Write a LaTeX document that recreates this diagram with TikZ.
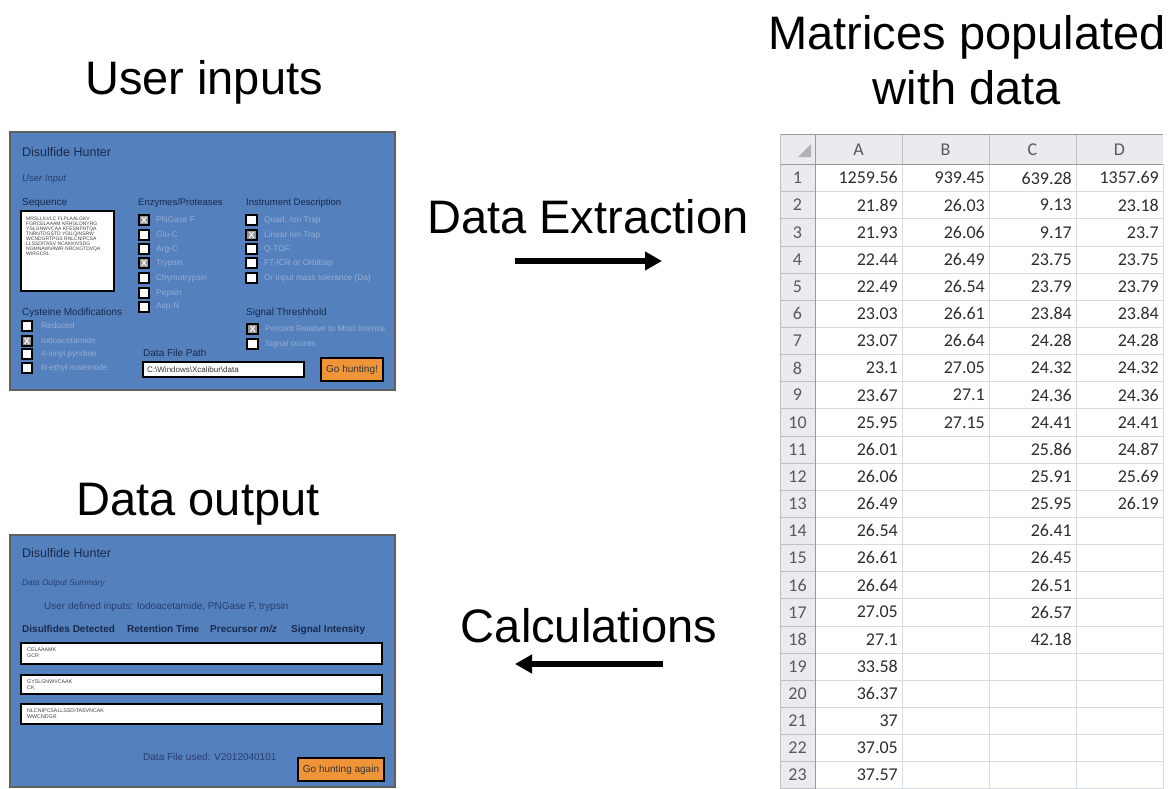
\documentclass[tikz,border=0pt]{standalone}
\usepackage{fontspec}
\setmainfont{Liberation Sans}
\newfontfamily\sheetfont{Carlito}
\usepackage{tikz}
\usetikzlibrary{arrows.meta,positioning,calc}
\definecolor{panelBlue}{RGB}{84,129,190}
\definecolor{panelEdge}{RGB}{95,95,95}
\definecolor{hdNavy}{RGB}{25,40,75}
\definecolor{itNavy}{RGB}{40,62,110}
\definecolor{lblBlue}{RGB}{150,172,212}
\definecolor{btnOrange}{RGB}{240,148,56}
\definecolor{sheetInk}{RGB}{45,45,45}
\definecolor{sheetHead}{RGB}{233,235,239}
\definecolor{sheetGrid}{RGB}{216,219,223}

\begin{document}
\begin{tikzpicture}[x=1pt, y=-1pt,
  title/.style={anchor=base, inner sep=0pt, font=\fontsize{47}{50}\selectfont},
  hunter/.style={anchor=base west, inner sep=0pt, text=hdNavy, font=\fontsize{12.5}{13}\selectfont},
  subt/.style={anchor=base west, inner sep=0pt, text=itNavy, font=\itshape\fontsize{9.5}{10}\selectfont},
  head/.style={anchor=base west, inner sep=0pt, text=hdNavy, font=\fontsize{10}{11}\selectfont},
  lbl/.style={anchor=west, inner sep=0pt, text=lblBlue, font=\fontsize{8.3}{9}\selectfont},
  chk/.style={draw=black, line width=1.6pt, fill=white, minimum size=10.5pt, inner sep=0pt, text=white, font=\bfseries\fontsize{9}{9}\selectfont},
  chkx/.style={chk, fill=black!40},
  tiny/.style={anchor=north west, inner sep=0pt, align=left, text=black!75, font=\fontsize{5.3}{5.8}\selectfont},
  btn/.style={draw=black, line width=1.8pt, fill=btnOrange},
  colhd/.style={inner sep=0pt, text=black!65, font=\sheetfont\fontsize{18}{18}\selectfont},
  num/.style={anchor=east, inner sep=0pt, text=sheetInk, font=\sheetfont\fontsize{18}{18}\selectfont}
]
  \useasboundingbox (0,0) rectangle (1172,789);

  % Titles
  \node[title] (tIn) at (204,95) {User inputs};
  \node[title] (tOut) at (198,515) {Data output};
  \node[title] (tMat1) at (967,50) {Matrices populated};
  \node[title] (tMat2) at (967,105) {with data};
  \node[title] (tExt) at (588,233) {Data Extraction};
  \node[title] (tCalc) at (589,642) {Calculations};

  % Arrows
  \coordinate (extFrom) at (515,261);
  \coordinate (extTo) at (662,261);
  \coordinate (calcFrom) at (663,664);
  \coordinate (calcTo) at (515,664);
  \draw[line width=5.5pt, -{Triangle[length=17pt,width=18pt]}] (extFrom) -- (extTo);
  \draw[line width=5.5pt, -{Triangle[length=17pt,width=18pt]}] (calcFrom) -- (calcTo);

  % Input panel
  \draw[panelEdge, line width=1.5pt, fill=panelBlue] (10,132) rectangle (395,390);
  \node[hunter] (inHunter) at (22,157) {Disulfide Hunter};
  \node[subt] (inSub) at (22,181.5) {User Input};
  \node[head] (seqHd) at (22,205.5) {Sequence};
  \node[head, font=\fontsize{9.5}{10}\selectfont] (enzHd) at (138,205.5) {Enzymes/Proteases};
  \node[head, font=\fontsize{9.5}{10}\selectfont] (insHd) at (246,205.5) {Instrument Description};
  \draw[black, line width=2pt, fill=white] (21,211) rectangle (114,291);
  \node[tiny, font=\fontsize{5}{5}\selectfont] (seqTxt) at (26,217) {MRSLLILVLC FLPLAALGKV\\FGRCELAAAM KRHGLDNYRG\\YSLGNWVCAA KFESNFNTQA\\TNRNTDGSTD YGILQINSRW\\WCNDGRTPGS RNLCNIPCSA\\LLSSDITASV NCAKKIVSDG\\NGMNAWVAWR NRCKGTDVQA\\WIRGCRL};
  % enzymes
  \foreach \lab/\yy/\st/\m [count=\i] in {PNGase F/220/chkx/X, Glu-C/235/chk/{}, Arg-C/249/chk/{}, Trypsin/263/chkx/X, Chymotrypsin/278/chk/{}, Pepsin/293/chk/{}, Asp-N/307/chk/{}} {
    \node[\st] (enz\i) at (144,\yy) {\m};
    \node[lbl] (enzL\i) at (156,\yy) {\lab};
  }
  % instruments
  \foreach \lab/\yy/\st/\m [count=\i] in {Quad. Ion Trap/220/chk/{}, Linear Ion Trap/235/chkx/X, Q-TOF/249/chk/{}, FT-ICR or Orbitrap/263/chk/{}, Or input mass tolerance (Da)/278/chk/{}} {
    \node[\st] (ins\i) at (251.5,\yy) {\m};
    \node[lbl] (insL\i) at (264,\yy) {\lab};
  }
  \node[head] (sigHd) at (246,315) {Signal Threshhold};
  \foreach \lab/\yy/\st/\m [count=\i] in {Percent Relative to Most Intense/329/chkx/X, Signal counts/344/chk/{}} {
    \node[\st] (sig\i) at (252.5,\yy) {\m};
    \node[lbl] (sigL\i) at (265,\yy) {\lab};
  }
  \node[head] (cysHd) at (22,315) {Cysteine Modifications};
  \foreach \lab/\yy/\st/\m [count=\i] in {Reduced/326/chk/{}, Iodoacetamide/341/chkx/X, 4-vinyl pyridine/354/chk/{}, N-ethyl maleimide/368/chk/{}} {
    \node[\st] (cys\i) at (27,\yy) {\m};
    \node[lbl] (cysL\i) at (41,\yy) {\lab};
  }
  \node[head] (pathHd) at (143,356.5) {Data File Path};
  \draw[black, line width=1.8pt, fill=white] (143,362) rectangle (304,377);
  \node[anchor=west, inner sep=0pt, font=\fontsize{8}{9}\selectfont, text=black!80] (pathTxt) at (147,369.5) {C:\textbackslash Windows\textbackslash Xcalibur\textbackslash data};
  \draw[btn] (321,358) rectangle (383,381);
  \node[inner sep=0pt, font=\fontsize{10}{11}\selectfont, text=black!80] (goBtn) at (352,369.5) {Go hunting!};

  % Output panel
  \draw[panelEdge, line width=1.5pt, fill=panelBlue] (10,535) rectangle (395,787);
  \node[hunter] (outHunter) at (22,557) {Disulfide Hunter};
  \node[subt, font=\itshape\fontsize{8.3}{9}\selectfont] (outSub) at (22,585) {Data Output Summary};
  \node[head, text=itNavy] (outUser) at (44,609.5) {User defined inputs: Iodoacetamide, PNGase F, trypsin};
  \node[head, font=\bfseries\fontsize{10}{11}\selectfont] (colDis) at (22,632.5) {Disulfides Detected};
  \node[head, font=\bfseries\fontsize{10}{11}\selectfont] (colRet) at (127,632.5) {Retention Time};
  \node[head, font=\bfseries\fontsize{10}{11}\selectfont] (colPre) at (210,632.5) {Precursor \textit{m/z}};
  \node[head, font=\bfseries\fontsize{10}{11}\selectfont] (colSig) at (291,632.5) {Signal Intensity};
  \foreach \top/\bot/\pep [count=\i] in {643/664/{CELAAAMK\\GCR}, 675/694/{GYSLGNWVCAAK\\CK}, 704/724/{NLCNIPCSALLSSDITASVNCAK\\WWCNDGR}} {
    \draw[black, line width=2pt, fill=white] (21,\top) rectangle (382,\bot);
    \node[tiny] (res\i) at (27,\top+5) {\pep};
  }
  \node[head, text=itNavy] (usedTxt) at (143,760.5) {Data File used: V2012040101};
  \draw[btn] (298,758) rectangle (384,781);
  \node[inner sep=0pt, font=\fontsize{10}{11}\selectfont, text=black!80] (againBtn) at (341,769.5) {Go hunting again};

  % Spreadsheet
  \fill[sheetHead] (780,134) rectangle (1163,164.4);
  \fill[sheetHead] (780,164.4) rectangle (815,789);
  \foreach \k in {1,...,23}
    \draw[sheetGrid] (815,{164.4+27.14*\k}) -- (1163,{164.4+27.14*\k});
  \foreach \k in {1,...,23}
    \draw[black!25] (780,{164.4+27.14*\k}) -- (815,{164.4+27.14*\k});
  \foreach \xx in {902,989,1076,1163}
    \draw[sheetGrid] (\xx,164.4) -- (\xx,789);
  \foreach \xx in {902,989,1076}
    \draw[black!25] (\xx,134) -- (\xx,164.4);
  \draw[black!40] (780,134) -- (1163,134);
  \draw[black!40] (780,164.4) -- (1163,164.4);
  \draw[black!40] (815,134) -- (815,789);
  \draw[black!25] (780,134) -- (780,789);
  \fill[black!30] (811,144) -- (811,157) -- (798,157) -- cycle;
  \foreach \c/\xx in {A/858.5, B/945.5, C/1032.5, D/1119.5}
    \node[colhd] (col\c) at (\xx,150) {\c};
  \foreach \r/\a/\b/\c/\d in {1/1259.56/939.45/639.28/1357.69, 2/21.89/26.03/9.13/23.18, 3/21.93/26.06/9.17/23.7, 4/22.44/26.49/23.75/23.75, 5/22.49/26.54/23.79/23.79, 6/23.03/26.61/23.84/23.84, 7/23.07/26.64/24.28/24.28, 8/23.1/27.05/24.32/24.32, 9/23.67/27.1/24.36/24.36, 10/25.95/27.15/24.41/24.41, 11/26.01/{}/25.86/24.87, 12/26.06/{}/25.91/25.69, 13/26.49/{}/25.95/26.19, 14/26.54/{}/26.41/{}, 15/26.61/{}/26.45/{}, 16/26.64/{}/26.51/{}, 17/27.05/{}/26.57/{}, 18/27.1/{}/42.18/{}, 19/33.58/{}/{}/{}, 20/36.37/{}/{}/{}, 21/37/{}/{}/{}, 22/37.05/{}/{}/{}, 23/37.57/{}/{}/{}} {
    \node[colhd] (row\r) at (797.5,{164.4+27.14*\r-13.57}) {\r};
    \node[num] (a\r) at (898,{164.4+27.14*\r-13.57}) {\a};
    \node[num] (b\r) at (985,{164.4+27.14*\r-13.57}) {\b};
    \node[num] (c\r) at (1072,{164.4+27.14*\r-13.57}) {\c};
    \node[num] (d\r) at (1159,{164.4+27.14*\r-13.57}) {\d};
  }
\end{tikzpicture}
\end{document}
